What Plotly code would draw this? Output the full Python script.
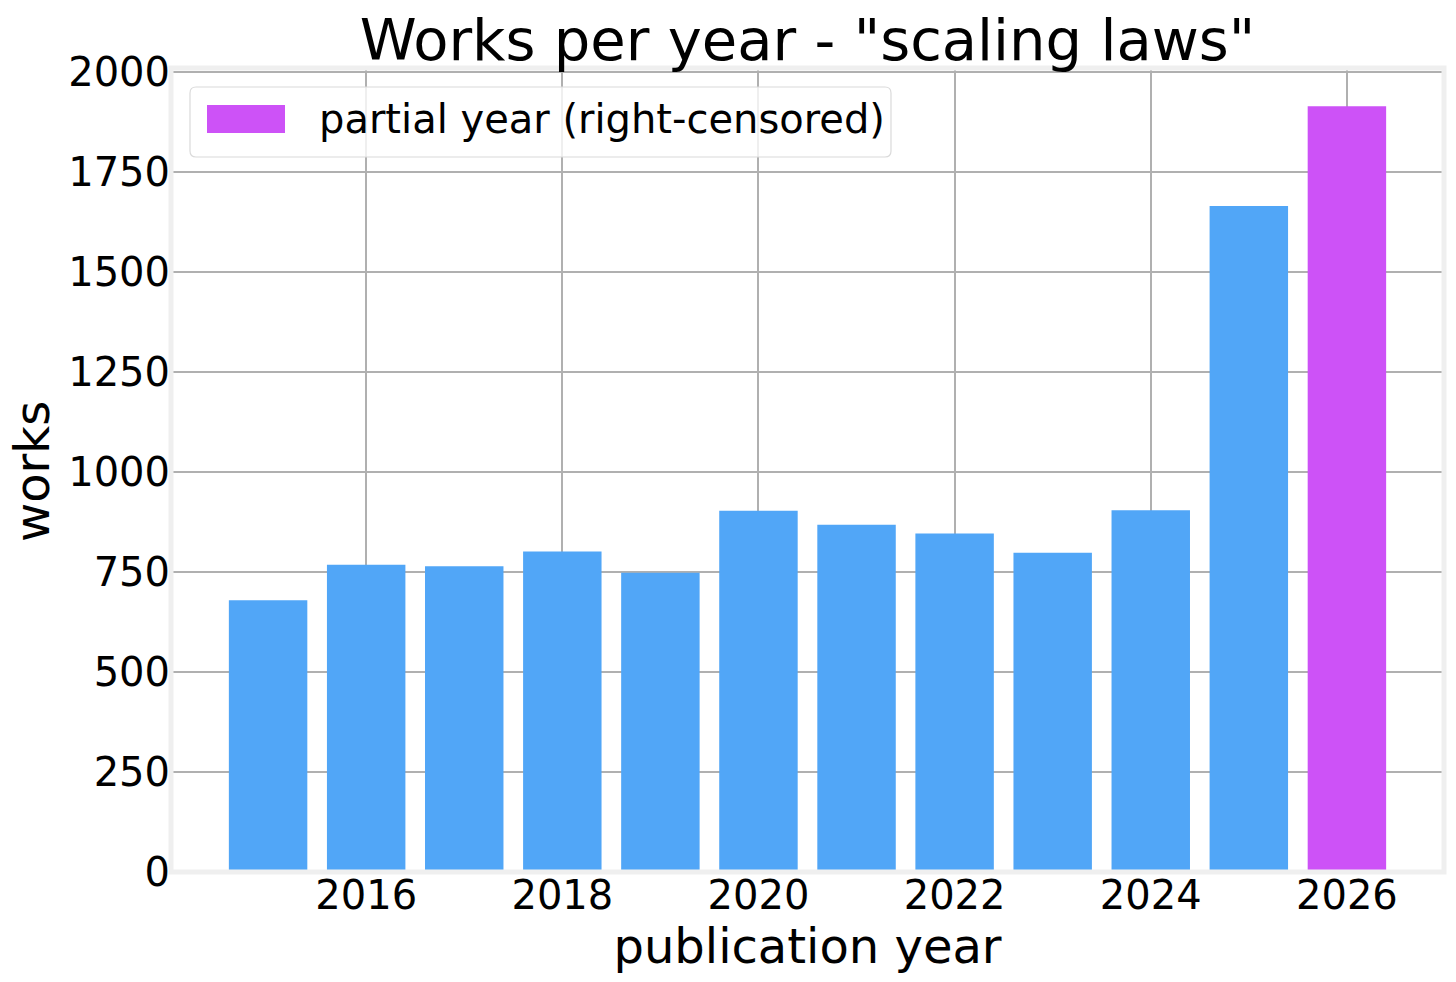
import plotly.graph_objects as go

# ---- data ----
years = [2015, 2016, 2017, 2018, 2019, 2020, 2021, 2022, 2023, 2024, 2025, 2026]
works = [679, 768, 764, 801, 748, 903, 868, 846, 798, 904, 1665, 1914]
partial = [False, False, False, False, False, False, False, False, False, False, False, True]
x_ticks = [2016, 2018, 2020, 2022, 2024, 2026]
y_ticks = [0, 250, 500, 750, 1000, 1250, 1500, 1750, 2000]

title_text = 'Works per year - "scaling laws"'
x_label = "publication year"
y_label = "works"
partial_label = "partial year (right-censored)"

BLUE = "#51A6F7"
PURPLE = "#CD52F7"
FONT = "DejaVu Sans"

full_x = [y for y, p in zip(years, partial) if not p]
full_y = [w for w, p in zip(works, partial) if not p]
part_x = [y for y, p in zip(years, partial) if p]
part_y = [w for w, p in zip(works, partial) if p]

fig = go.Figure()
fig.add_trace(go.Bar(x=full_x, y=full_y, width=0.8, marker=dict(color=BLUE, line=dict(width=0)),
                     name="complete year", showlegend=False))
fig.add_trace(go.Bar(x=part_x, y=part_y, width=0.8, marker=dict(color=PURPLE, line=dict(width=0)),
                     name=partial_label, showlegend=False))

W, H = 1456, 982
OFF = 8  # page body margin in the browser
ml, mr, mt, mb = 171 - OFF, 12 + OFF, 68 - OFF, 110 + OFF
pw, ph = W - ml - mr, H - mt - mb

# convert reference screen pixel positions to paper coordinates
def sx(v):
    return (v - OFF - ml) / pw

def sy(v):
    return 1 - (v - OFF - mt) / ph

x0, x1, y0, y1 = sx(190), sx(891), sy(87), sy(157)
rx, ry = 6 / pw, 6 / ph
path = (f"M {x0+rx},{y0} L {x1-rx},{y0} Q {x1},{y0} {x1},{y0-ry} "
        f"L {x1},{y1+ry} Q {x1},{y1} {x1-rx},{y1} L {x0+rx},{y1} "
        f"Q {x0},{y1} {x0},{y1+ry} L {x0},{y0-ry} Q {x0},{y0} {x0+rx},{y0} Z")
shapes = [
    dict(type="rect", xref="paper", yref="paper", x0=0, x1=1, y0=0, y1=1,
         line=dict(color="#efefef", width=5), layer="above"),
    dict(type="path", xref="paper", yref="paper", path=path,
         fillcolor="rgba(255,255,255,0.8)", line=dict(color="#dadada", width=1.2), layer="above"),
    dict(type="rect", xref="paper", yref="paper", x0=sx(207), x1=sx(285), y0=sy(105), y1=sy(133),
         fillcolor=PURPLE, line=dict(width=0), layer="above"),
]
annotations = [
    dict(xref="paper", yref="paper", x=sx(317), y=sy(119), xanchor="left", yanchor="middle",
         text=partial_label, showarrow=False, font=dict(family=FONT, size=40, color="black")),
    dict(xref="paper", yref="paper", x=sx(32), y=sy(472), xanchor="center", yanchor="middle",
         text=y_label, textangle=-90, showarrow=False, font=dict(family=FONT, size=48, color="black")),
]

fig.update_layout(
    width=W, height=H,
    margin=dict(l=ml, r=mr, t=mt, b=mb),
    paper_bgcolor="white", plot_bgcolor="white",
    font=dict(family=FONT, color="black"),
    barmode="overlay",
    showlegend=False,
    title=dict(text=title_text, x=0.5, xref="paper", xanchor="center",
               y=1, yref="paper", yanchor="bottom", pad=dict(b=8),
               font=dict(family=FONT, size=57.6, color="black")),
    shapes=shapes,
    annotations=annotations,
)
fig.update_xaxes(
    range=[2014.01, 2026.99], tickmode="array", tickvals=x_ticks, ticktext=[str(t) for t in x_ticks],
    showgrid=True, gridcolor="#b0b0b0", gridwidth=1.6, zeroline=False,
    showline=False, ticks="", ticklabelstandoff=-4,
    tickfont=dict(family=FONT, size=40, color="black"),
    title=dict(text=x_label, font=dict(family=FONT, size=48, color="black"), standoff=10),
    automargin=False,
)
fig.update_yaxes(
    range=[0, 2009.7], tickmode="array", tickvals=y_ticks, ticktext=[str(t) for t in y_ticks],
    showgrid=True, gridcolor="#b0b0b0", gridwidth=1.6, zeroline=False,
    showline=False, ticks="", ticklabelstandoff=0,
    tickfont=dict(family=FONT, size=40, color="black"),
    automargin=False,
)

fig.write_html("out.html")
